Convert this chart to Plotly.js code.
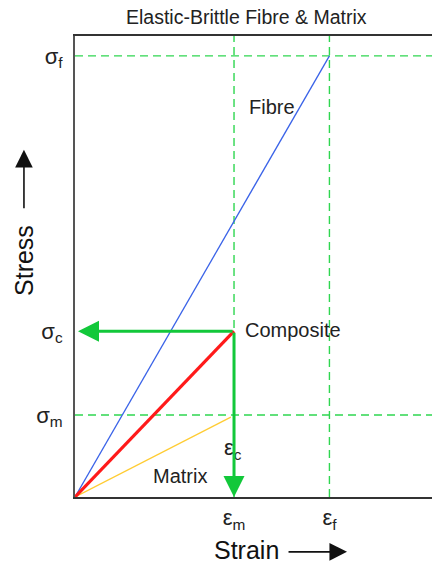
<!DOCTYPE html>
<html>
<head>
<meta charset="utf-8">
<script src="https://cdn.plot.ly/plotly-3.0.1.min.js"></script>
<style>html,body{margin:0;padding:0;background:#fff;}#chart{width:432px;height:565px;}</style>
</head>
<body>
<div id="chart"></div>
<script>
// ---- data (arbitrary units) ----
const strainVals = [1.0, 1.6];            // ε_m, ε_f
const strainTickText = ["ε<sub>m</sub>", "ε<sub>f</sub>"];
const stressVals = [0.186, 0.376, 1.0];   // σ_m, σ_c, σ_f
const stressTickText = ["σ<sub>m</sub>", "σ<sub>c</sub>", "σ<sub>f</sub>"];
const xMax = 2.245;
const yMax = 1.045;

const fibreX = [0, 1.6];
const fibreY = [0, 1.0];
const compositeX = [0, 1.0];
const compositeY = [0, 0.376];
const matrixX = [0, 0.98];
const matrixY = [0, 0.181];

const curveLabels = ["Fibre", "Composite", "Matrix", "ε<sub>c</sub>"];
const labelX = [1.239, 1.057, 0.66, 0.925];
const labelY = [0.884, 0.379, 0.048, 0.108];

const EPS_M = strainVals[0], EPS_F = strainVals[1];
const SIG_M = stressVals[0], SIG_C = stressVals[1], SIG_F = stressVals[2];

const dashGreen = "#2fd650";
const arrowGreen = "#12c83a";
const font = "Liberation Sans, Arial, sans-serif";
const dashLine = {color: dashGreen, width: 1.4, dash: "8px,5px"};

const traces = [
  // guide lines
  {x: [0, xMax], y: [SIG_F, SIG_F], mode: "lines", line: dashLine, hoverinfo: "skip"},
  {x: [0, xMax], y: [SIG_M, SIG_M], mode: "lines", line: dashLine, hoverinfo: "skip"},
  {x: [EPS_M, EPS_M], y: [0, yMax], mode: "lines", line: dashLine, hoverinfo: "skip"},
  {x: [EPS_F, EPS_F], y: [0, yMax], mode: "lines", line: dashLine, hoverinfo: "skip"},
  // curves
  {x: fibreX, y: fibreY, mode: "lines", name: "Fibre", line: {color: "#3a63e8", width: 1.3}},
  {x: matrixX, y: matrixY, mode: "lines", name: "Matrix", line: {color: "#ffcc33", width: 1.3}},
  {x: compositeX, y: compositeY, mode: "lines", name: "Composite", line: {color: "#ff1a1a", width: 3.2}}
];

const annotations = [];
for (let i = 0; i < curveLabels.length; i++) {
  annotations.push({
    x: labelX[i], y: labelY[i], xref: "x", yref: "y",
    text: curveLabels[i], showarrow: false,
    xanchor: (i === 1 || i === 3) ? "left" : "center", yanchor: "middle",
    font: {family: font, size: i === 3 ? 22 : 20, color: "#222"}
  });
}
// green arrows from composite failure point
annotations.push({
  x: 0, y: SIG_C, xref: "x", yref: "y", axref: "x", ayref: "y",
  ax: EPS_M, ay: SIG_C, text: "", showarrow: true,
  arrowhead: 2, arrowsize: 1.4, arrowwidth: 3, arrowcolor: arrowGreen, standoff: 3
});
annotations.push({
  x: EPS_M, y: 0, xref: "x", yref: "y", axref: "x", ayref: "y",
  ax: EPS_M, ay: SIG_C, text: "", showarrow: true,
  arrowhead: 2, arrowsize: 1.4, arrowwidth: 3, arrowcolor: arrowGreen, standoff: 0
});
// axis titles
annotations.push({
  x: 0.479, y: -0.115, xref: "paper", yref: "paper",
  text: "Strain", showarrow: false, xanchor: "center", yanchor: "middle",
  font: {family: font, size: 25, color: "#111"}
});
annotations.push({
  x: -0.143, y: 0.514, xref: "paper", yref: "paper",
  text: "Stress", showarrow: false, textangle: -90, xanchor: "center", yanchor: "middle",
  font: {family: font, size: 25, color: "#111"}
});
// black arrows beside axis titles
annotations.push({
  x: 0.762, y: -0.119, xref: "paper", yref: "paper",
  ax: -60, ay: 0, text: "", showarrow: true,
  arrowhead: 2, arrowsize: 2.2, arrowwidth: 1.6, arrowcolor: "#111"
});
annotations.push({
  x: -0.143, y: 0.753, xref: "paper", yref: "paper",
  ax: 0, ay: 60, text: "", showarrow: true,
  arrowhead: 2, arrowsize: 2.2, arrowwidth: 1.6, arrowcolor: "#111"
});

const layout = {
  width: 432, height: 565,
  margin: {l: 75, r: 0, t: 36, b: 68},
  paper_bgcolor: "#fff", plot_bgcolor: "#fff",
  showlegend: false,
  font: {family: font, color: "#222"},
  title: {text: "Elastic-Brittle Fibre &amp; Matrix", font: {family: font, size: 19.5, color: "#222"},
          x: 0.57, xref: "container", xanchor: "center", y: 0.97, yref: "container", yanchor: "middle"},
  xaxis: {
    range: [0, xMax], showgrid: false, zeroline: false,
    showline: true, linecolor: "#333", linewidth: 2, mirror: true,
    tickmode: "array", tickvals: strainVals, ticktext: strainTickText,
    ticks: "", tickfont: {family: font, size: 22, color: "#222"}
  },
  yaxis: {
    range: [0, yMax], showgrid: false, zeroline: false,
    showline: true, linecolor: "#555", linewidth: 2,
    tickmode: "array", tickvals: stressVals, ticktext: stressTickText,
    ticks: "", tickfont: {family: font, size: 22, color: "#222"},
    ticklabelstandoff: 6
  },
  annotations: annotations
};

Plotly.newPlot("chart", traces, layout, {displayModeBar: false, staticPlot: true});
</script>
</body>
</html>
